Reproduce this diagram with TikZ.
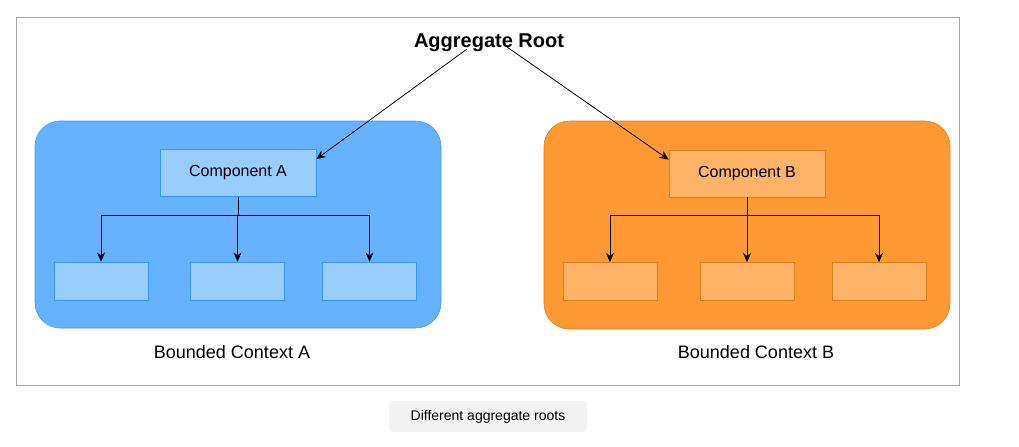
\documentclass[tikz,border=0pt]{standalone}
\usepackage{fontspec}
\setmainfont{Liberation Sans}
\usetikzlibrary{arrows.meta}
\definecolor{ctxblue}{HTML}{66B2FF}
\definecolor{boxblue}{HTML}{99CCFF}
\definecolor{lineblue}{HTML}{3399FF}
\definecolor{ctxorange}{HTML}{FF9933}
\definecolor{boxorange}{HTML}{FFB366}
\definecolor{lineorange}{HTML}{D9801E}
\definecolor{framegray}{HTML}{A6A6A6}
\definecolor{capgray}{HTML}{F3F3F3}
\tikzset{
  ctxA/.style={draw=lineblue,fill=ctxblue,rounded corners=19pt,minimum width=304.5pt,minimum height=155.25pt},
  ctxB/.style={draw=lineorange,fill=ctxorange,rounded corners=19pt,minimum width=304.5pt,minimum height=156pt},
  compA/.style={draw=lineblue,fill=boxblue,minimum width=117pt,minimum height=35.25pt,font=\fontsize{12}{14}\selectfont},
  compB/.style={draw=lineorange,fill=boxorange,minimum width=117pt,minimum height=35.25pt,font=\fontsize{12}{14}\selectfont},
  leafA/.style={draw=lineblue,fill=boxblue,minimum width=70.5pt,minimum height=28.5pt},
  leafB/.style={draw=lineorange,fill=boxorange,minimum width=70.5pt,minimum height=28.5pt},
  ctxlabel/.style={font=\fontsize{13.5}{16}\selectfont},
  arr/.style={-{Stealth[length=7pt,width=6pt]},line width=0.6pt},
}

\begin{document}
\begin{tikzpicture}[x=0.75pt,y=-0.75pt]
\useasboundingbox (0,0) rectangle (1019,446);
\draw[framegray,line width=0.75pt] (16,17) rectangle (959,385);
% contexts
\node[ctxA] (ctxa) at (238,224.5) {};
\node[ctxB] (ctxb) at (747,225) {};
\node[ctxlabel] (labela) at (232,352) {Bounded Context A};
\node[ctxlabel] (labelb) at (756,352) {Bounded Context B};
% root
\node[font=\bfseries\fontsize{15}{18}\selectfont] (root) at (489,42.5) {Aggregate Root};
\coordinate (rootL) at (467,49);
\coordinate (rootR) at (507,47);
% components
\node[compA] (ca) at (238,173) {Component A};
\node[compB] (cb) at (747,173.5) {Component B};
\node[leafA] (a1) at (101,281) {};
\node[leafA] (a2) at (237.5,281) {};
\node[leafA] (a3) at (369.5,281) {};
\node[leafB] (b1) at (610,281.5) {};
\node[leafB] (b2) at (747,281.5) {};
\node[leafB] (b3) at (879,281.5) {};
\draw[arr] (rootL) -- (ca.10);
\draw[arr] (rootR) -- (cb.170);
\foreach \n in {a1,a2,a3}
  \draw[arr] (ca.south) -- ++(0,19) -| (\n.north);
\foreach \n in {b1,b2,b3}
  \draw[arr] (cb.south) -- ++(0,18.5) -| (\n.north);
% caption
\node[fill=capgray,rounded corners=2.5pt,minimum width=148.5pt,minimum height=23.25pt,font=\fontsize{10.5}{12}\selectfont] (cap) at (488,416.5) {Different aggregate roots};
\end{tikzpicture}
\end{document}
